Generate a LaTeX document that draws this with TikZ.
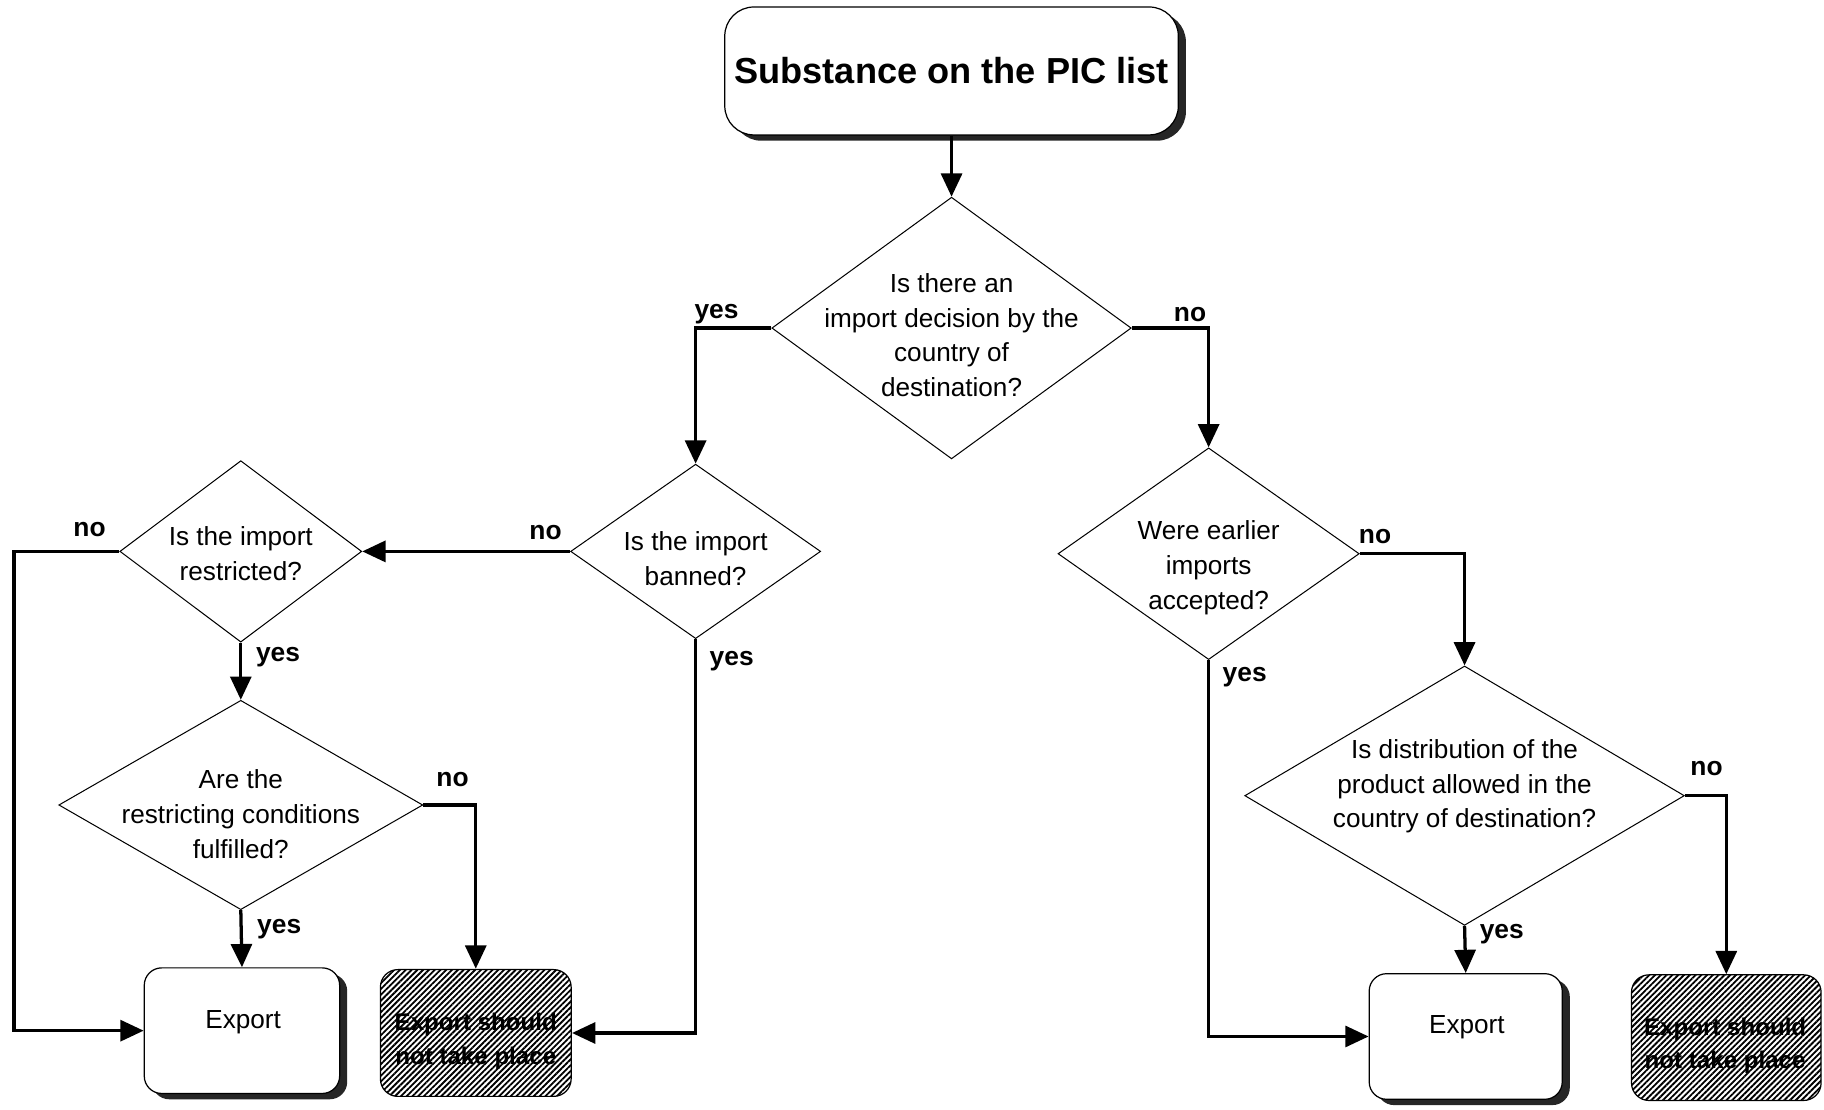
\documentclass[tikz,border=0pt]{standalone}
\usepackage{fontspec}
\setmainfont{Liberation Sans}
\usetikzlibrary{shapes.geometric,arrows.meta,patterns.meta,shadows}
\begin{document}
\begin{tikzpicture}[x=0.02cm,y=-0.02cm,
  conn/.style={line width=1.6pt,-{Triangle[length=0.4cm,width=0.36cm]}},
  dia/.style={draw,line width=0.5pt,shape=diamond,inner sep=0pt},
  ebox/.style={draw,line width=0.6pt,rounded corners=0.3cm,fill=white,
    general shadow={fill=black!85,shadow xshift=0.13cm,shadow yshift=-0.1cm}},
  gbox/.style={draw,line width=0.6pt,rounded corners=0.3cm,
    pattern={Lines[angle=45,distance=2pt,line width=0.9pt]},pattern color=black},
  qtext/.style={align=center,inner sep=0pt,font=\fontsize{12.8}{17}\selectfont},
  gtext/.style={align=center,inner sep=0pt,font=\fontsize{11.8}{16.5}\selectfont\bfseries},
  lab/.style={inner sep=0pt,font=\fontsize{12.9}{15}\selectfont\bfseries}
]
\useasboundingbox (0,0) rectangle (1568,954);

% start box
\node[ebox,rounded corners=0.5cm,minimum width=7.8cm,minimum height=2.2cm] (start) at (818,61)
  {\fontsize{17.7}{20}\selectfont\bfseries Substance on the PIC list};

% decisions
\node[dia,minimum width=6.18cm,minimum height=4.5cm] (d1) at (818,282) {};
\node[qtext] (t1) at (818,288) {Is there an\\import decision by the\\country of\\destination?};

\node[dia,minimum width=4.3cm,minimum height=3.0cm] (d2) at (598,474) {};
\node[qtext] (t2) at (598,480) {Is the import\\banned?};

\node[dia,minimum width=4.16cm,minimum height=3.12cm] (d4) at (207,474) {};
\node[qtext] (t4) at (207,476) {Is the import\\restricted?};

\node[dia,minimum width=6.26cm,minimum height=3.6cm] (d5) at (207,692) {};
\node[qtext] (t5) at (207,700) {Are the\\restricting conditions\\fulfilled?};

\node[dia,minimum width=5.18cm,minimum height=3.64cm] (d3) at (1039,476) {};
\node[qtext] (t3) at (1039,488) {Were earlier\\imports\\accepted?};

\node[dia,minimum width=7.56cm,minimum height=4.46cm] (d6) at (1259,684) {};
\node[qtext] (t6) at (1259,676) {Is distribution of the\\product allowed in the\\country of destination?};

% outcomes
\node[ebox,minimum width=3.36cm,minimum height=2.16cm] (e1) at (208,886) {};
\node[qtext] (te1) at (209,879) {Export};
\node[gbox,minimum width=3.28cm,minimum height=2.18cm] (g1) at (409,888) {};
\node[gtext] (tg1) at (409,895) {Export should\\not take place};

\node[ebox,minimum width=3.32cm,minimum height=2.16cm] (e2) at (1260,891) {};
\node[qtext] (te2) at (1261,883) {Export};
\node[gbox,minimum width=3.26cm,minimum height=2.16cm] (g2) at (1484,892) {};
\node[gtext] (tg2) at (1483,899) {Export should\\not take place};

% connectors
\coordinate (lft) at (12,474);
\draw[conn] (start.south) -- (d1.north);
\draw[conn] (d1.west) -| (d2.north);
\draw[conn] (d1.east) -| (d3.north);
\draw[conn] (d2.west) -- (d4.east);
\draw[conn] (d2.south) |- (g1.east);
\draw[conn] (d4.west) -- (lft) |- (e1.west);
\draw[conn] (d4.south) -- (d5.north);
\draw[conn] (d5.east) -| (g1.north);
\draw[conn] (d5.south) -- (e1.north);
\draw[conn] (d3.east) -| (d6.north);
\draw[conn] (d3.south) |- (e2.west);
\draw[conn] (d6.east) -| (g2.north);
\draw[conn] (d6.south) -- (e2.north);

% branch labels
\node[lab] (l1) at (616,270) {yes};
\node[lab] (l2) at (1023,270) {no};
\node[lab] (l3) at (469,458) {no};
\node[lab] (l4) at (629,568) {yes};
\node[lab] (l5) at (77,455) {no};
\node[lab] (l6) at (239,565) {yes};
\node[lab] (l7) at (389,670) {no};
\node[lab] (l8) at (240,799) {yes};
\node[lab] (l9) at (1182,461) {no};
\node[lab] (l10) at (1070,582) {yes};
\node[lab] (l11) at (1467,661) {no};
\node[lab] (l12) at (1291,803) {yes};
\end{tikzpicture}
\end{document}
